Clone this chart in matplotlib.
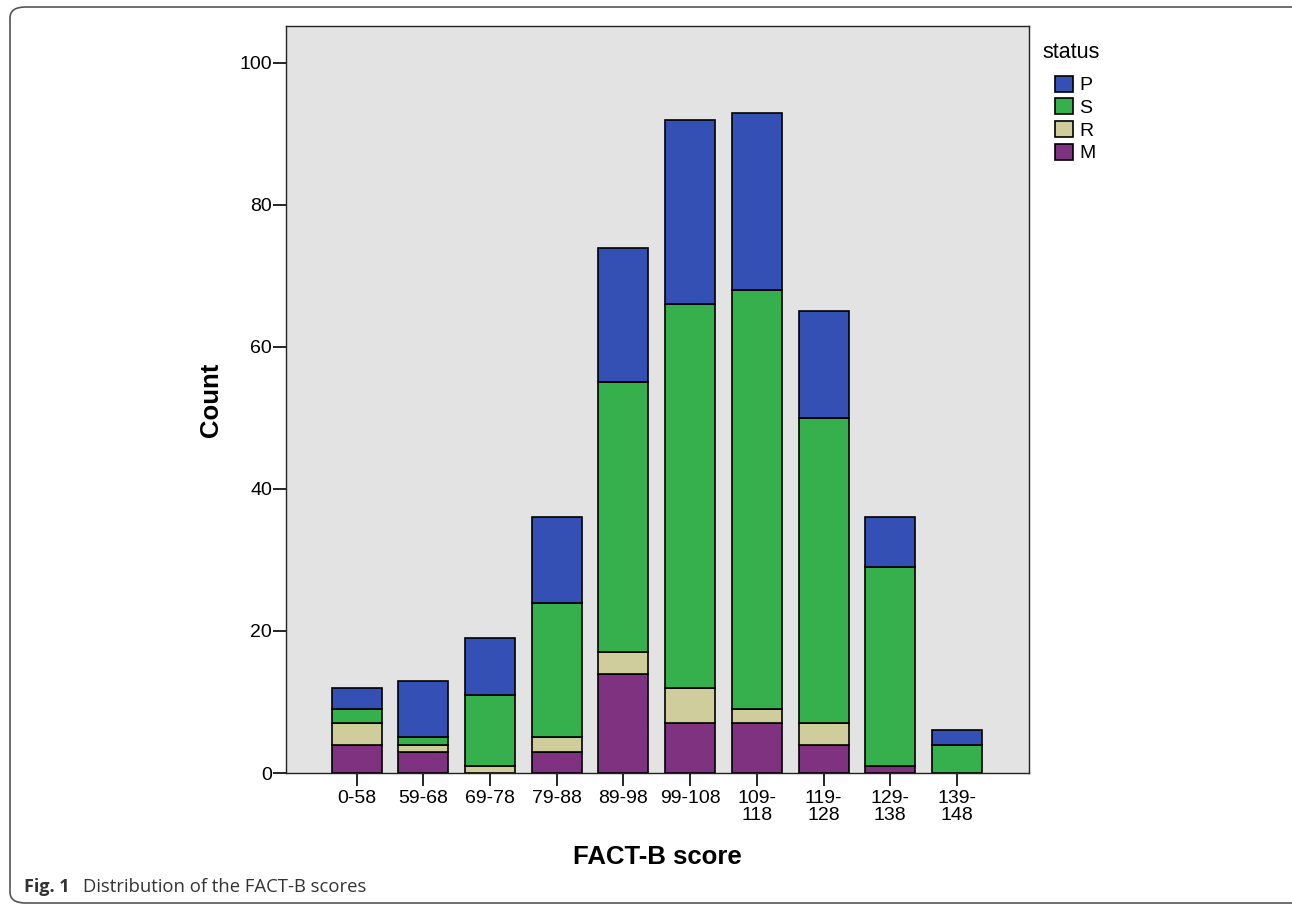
import matplotlib
matplotlib.use("Agg")
from matplotlib import pyplot as plt
from matplotlib.patches import FancyBboxPatch, Patch
import numpy as np

# Datos
categorias = ["0-58", "59-68", "69-78", "79-88", "89-98", "99-108",
              "109-\n118", "119-\n128", "129-\n138", "139-\n148"]
valores_M = [4, 3, 0, 3, 14, 7, 7, 4, 1, 0]
valores_R = [3, 1, 1, 2, 3, 5, 2, 3, 0, 0]
valores_S = [2, 1, 10, 19, 38, 54, 59, 43, 28, 4]
valores_P = [3, 8, 8, 12, 19, 26, 25, 15, 7, 2]

colores = {"P": "#3450b4", "S": "#35b04c", "R": "#cfcd9b", "M": "#7f327f"}

plt.rcParams['font.family'] = ['Liberation Sans', 'DejaVu Sans']

fig = plt.figure(figsize=(12.92, 9.11), dpi=100)
W, H = 1292, 911

# marco redondeado de la figura
marco = FancyBboxPatch((10 / W, 8 / H), 1300 / W, 896 / H,
                       boxstyle="round,pad=0,rounding_size=0.012",
                       transform=fig.transFigure, fill=False,
                       edgecolor="#555555", linewidth=1.2)
fig.patches.append(marco)

ax = fig.add_axes([286 / W, 1 - 773 / H, (1029 - 286) / W, (773 - 26) / H])
ax.set_facecolor("#e3e3e3")

x = np.arange(len(categorias))
base = np.zeros(len(categorias))
for nombre, vals in [("M", valores_M), ("R", valores_R), ("S", valores_S), ("P", valores_P)]:
    vals = np.array(vals)
    ax.bar(x, vals, width=0.75, bottom=base, color=colores[nombre],
           edgecolor="black", linewidth=1.2, zorder=3)
    base = base + vals

ax.set_xlim(-1.06, 10.08)
ax.set_ylim(0, 105.2)
ax.set_yticks([0, 20, 40, 60, 80, 100])
ax.set_xticks(x)
ax.set_xticklabels(categorias, fontsize=14, linespacing=1.0)
ax.tick_params(axis="y", labelsize=14, length=9.5, width=1.2, direction="out", pad=0.5)
ax.tick_params(axis="x", length=9, width=1.2, direction="out", pad=3)
for s in ax.spines.values():
    s.set_linewidth(1.0)
    s.set_color("#222222")

ax.set_ylabel("Count", fontsize=18.5, fontweight="bold", labelpad=12)
ax.set_xlabel("FACT-B score", fontsize=18.5, fontweight="bold", labelpad=15)

# leyenda
fig.text(1042 / W, 1 - 58 / H, "status", fontsize=15.5, va="baseline")
handles = [Patch(facecolor=colores[k], edgecolor="black", linewidth=1.2) for k in ["P", "S", "R", "M"]]
fig.legend(handles, ["P", "S", "R", "M"], loc="upper left",
           bbox_to_anchor=(1041 / W, 1 - 62 / H), frameon=False,
           fontsize=14, handlelength=0.95, handleheight=0.9,
           handletextpad=0.3, labelspacing=0.2, borderpad=0.2)

fig.text(24 / W, 1 - 892 / H, "Fig. 1", fontsize=13, fontweight="bold",
         family=["Open Sans", "DejaVu Sans"], color="#333333", va="baseline")
fig.text(83 / W, 1 - 892 / H, "Distribution of the FACT-B scores", fontsize=13.3,
         family=["Open Sans", "DejaVu Sans"], color="#333333", va="baseline")

fig.savefig("out.png", dpi=100)
